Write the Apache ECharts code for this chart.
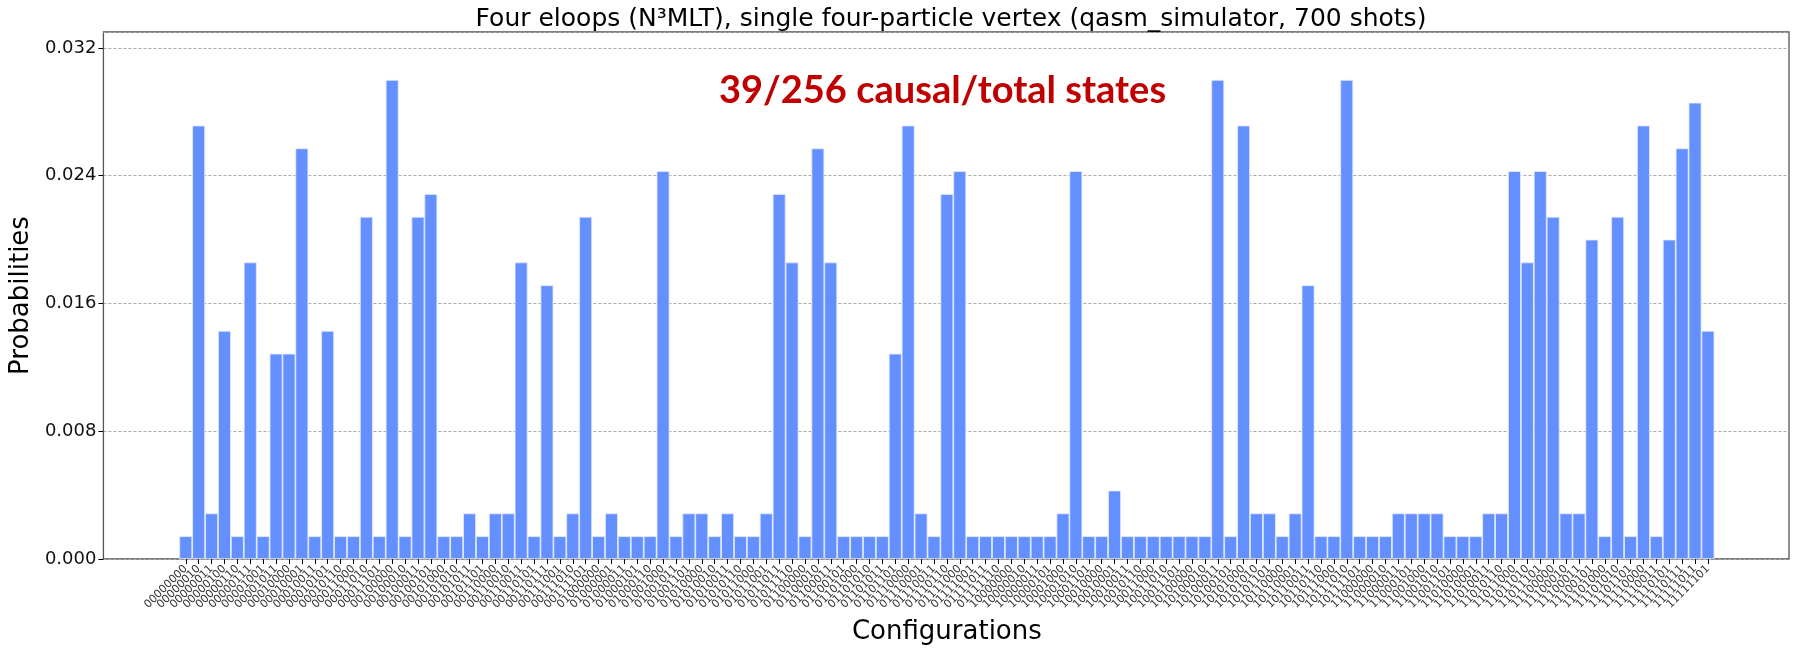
<!DOCTYPE html>
<html>
<head>
<meta charset="utf-8">
<title>Four eloops (N3MLT)</title>
<script src="https://cdn.jsdelivr.net/npm/echarts@6/dist/echarts.min.js"></script>
<style>
  html, body { margin: 0; padding: 0; background: #fff; }
  #chart { width: 1798px; height: 652px; }
</style>
</head>
<body>
<div id="chart"></div>
<script>
// measured configurations (bitstrings) in order of the x axis
var categories = [
    '00000000','00000010','00000011','00000100','00000110','00000111','00001001','00001011',
    '00010000','00010001','00010011','00010101','00010110','00011000','00011010','00011101',
    '00100000','00100010','00100011','00100101','00101000','00101010','00101011','00101101',
    '00110000','00110010','00110011','00110101','00110111','00111001','00111010','00111101',
    '01000000','01000001','01000011','01000101','01000110','01001000','01001011','01001101',
    '01010000','01010010','01010011','01010110','01011000','01011001','01011011','01011110',
    '01100000','01100010','01100011','01100101','01101000','01101010','01101011','01101101',
    '01110000','01110001','01110011','01110110','01111000','01111001','01111011','01111110',
    '10000000','10000010','10000011','10000101','10001000','10001010','10001101',
    '10010000','10010001','10010011','10010110','10011000','10011010','10011101',
    '10100000','10100010','10100011','10100101','10101000','10101010','10101101',
    '10110000','10110001','10110011','10110110','10111000','10111010','10111101',
    '11000000','11000010','11000011','11000101','11001000','11001010','11001101',
    '11010000','11010001','11010011','11010110','11011000','11011010','11011101',
    '11100000','11100010','11100011','11100101','11101000','11101010','11101101',
    '11110000','11110011','11110101','11110111','11111011','11111101'
];

// counts per configuration (700 shots in total)
var shotCounts = [
    1, 19, 2, 10, 1, 13, 1, 9, 9, 18, 1, 10, 1, 1, 15, 1, 21, 1, 15, 16, 1, 1, 2, 1,
    2, 2, 13, 1, 12, 1, 2, 15, 1, 2, 1, 1, 1, 17, 1, 2, 2, 1, 2, 1, 1, 2, 16, 13, 1,
    18, 13, 1, 1, 1, 1, 9, 19, 2, 1, 16, 17, 1, 1, 1, 1, 1, 1, 1, 2, 17, 1, 1, 3, 1,
    1, 1, 1, 1, 1, 1, 21, 1, 19, 2, 2, 1, 2, 12, 1, 1, 21, 1, 1, 1, 2, 2, 2, 2, 1, 1,
    1, 2, 2, 17, 13, 17, 15, 2, 2, 14, 1, 15, 1, 19, 1, 14, 18, 20, 10
];
var SHOTS = 700;

var yMax = 0.033;
var yStep = 0.008;

var titleText = 'Four eloops (N\u00B3MLT), single four-particle vertex (qasm_simulator, 700 shots)';
var noteText = '39/256 causal/total states';

var probabilities = shotCounts.map(function (c) { return c / SHOTS; });

var font = 'DejaVu Sans';
var chart = echarts.init(document.getElementById('chart'));

var option = {
    animation: false,
    backgroundColor: '#fff',
    title: {
        text: titleText,
        left: 946,
        textAlign: 'center',
        top: 2,
        textStyle: { fontFamily: font, fontSize: 25, fontWeight: 'normal', color: '#000' }
    },
    grid: [
        // bars
        { left: 179.3, right: 83.6, top: 32, bottom: 93 },
        // frame + y axis
        { left: 103, right: 9, top: 32, bottom: 93, show: true,
          borderColor: '#555', borderWidth: 1.3, backgroundColor: 'transparent' }
    ],
    xAxis: [
        {
            type: 'category',
            gridIndex: 0,
            data: categories,
            axisLine: { show: false },
            axisTick: { show: true, alignWithLabel: true, interval: 0, length: 5,
                        lineStyle: { color: '#000', width: 1 } },
            axisLabel: { interval: 0, rotate: 45, margin: 8, fontFamily: font,
                         fontSize: 11, color: '#333' },
            name: 'Configurations',
            nameLocation: 'middle',
            nameGap: 60,
            nameTextStyle: { fontFamily: font, fontSize: 26, color: '#000' }
        },
        { type: 'value', gridIndex: 1, show: false, min: 0, max: 1 }
    ],
    yAxis: [
        { type: 'value', gridIndex: 0, show: false, min: 0, max: yMax },
        {
            type: 'value',
            gridIndex: 1,
            min: 0,
            max: yMax,
            interval: yStep,
            axisLine: { show: false },
            axisTick: { show: true, length: 5, lineStyle: { color: '#000' } },
            axisLabel: {
                fontFamily: font, fontSize: 18, color: '#111', margin: 7,
                showMaxLabel: false,
                formatter: function (v) { return v.toFixed(3); }
            },
            splitLine: { show: true, lineStyle: { color: '#aaa', type: [3, 2], width: 1 } },
            name: 'Probabilities',
            nameLocation: 'middle',
            nameGap: 62,
            nameTextStyle: { fontFamily: font, fontSize: 26, color: '#000' }
        }
    ],
    graphic: [
        {
            type: 'text',
            left: 719,
            top: 72,
            style: { text: noteText, fill: '#C00000', font: 'bold 38px Lato' }
        }
    ],
    series: [
        {
            type: 'bar',
            xAxisIndex: 0,
            yAxisIndex: 0,
            data: probabilities,
            barCategoryGap: 0,
            itemStyle: { color: '#648FFF', borderColor: '#e4ebff', borderWidth: 0.8 }
        }
    ]
};

chart.setOption(option);
</script>
</body>
</html>
